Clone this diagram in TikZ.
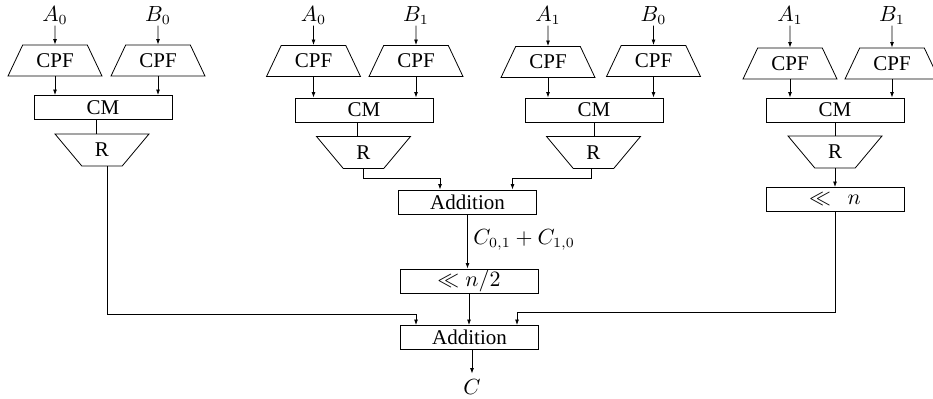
\documentclass[tikz,border=0pt]{standalone}
\usepackage{fontspec}
\setmainfont{Liberation Serif}
\usetikzlibrary{shapes.geometric,arrows.meta}
\tikzset{
  lab/.style={inner sep=0.5pt},
  cpf/.style={draw, trapezium, trapezium stretches=true, trapezium left angle=59,
    trapezium right angle=59, minimum width=47pt, minimum height=15.5pt, inner sep=0pt},
  rbox/.style={draw, trapezium, trapezium stretches=true, trapezium left angle=124,
    trapezium right angle=124, minimum width=47pt, minimum height=16pt, inner sep=0pt},
  blk/.style={draw, rectangle, minimum width=69pt, minimum height=12pt, inner sep=0pt},
  arr/.style={-{Latex[length=2.8pt,width=2pt]}},
}
\begin{document}
\begin{tikzpicture}[x=0.5pt, y=-0.5pt, font=\fontsize{10.5}{12.6}\selectfont]
\useasboundingbox (0,0) rectangle (933,398);
% ---------- group 1 ----------
\node[cpf] (cpf1) at (55,60.5) {CPF};
\node[cpf] (cpf2) at (158,60.5) {CPF};
\node[lab,anchor=base] (a0) at (55,21) {$A_0$};
\node[lab,anchor=base] (b0) at (158,21) {$B_0$};
\node[blk] (cm1) at (103,107.5) {CM};
\node[rbox] (r1) at (102,150) {R};
\draw[arr] (a0) -- (cpf1);
\draw[arr] (b0) -- (cpf2);
\draw[arr] (cpf1.south) -- (cpf1.south |- cm1.north);
\draw[arr] (cpf2.south) -- (cpf2.south |- cm1.north);
\draw ([xshift=-3.5pt]cm1.south) -- ([xshift=-3.5pt]cm1.south |- r1.north);
% ---------- group 2 ----------
\node[cpf] (cpf3) at (313.5,61) {CPF};
\node[cpf] (cpf4) at (416,61) {CPF};
\node[lab,anchor=base] (a0b) at (313.5,21) {$A_0$};
\node[lab,anchor=base] (b1) at (416,21) {$B_1$};
\node[blk] (cm2) at (364,110) {CM};
\node[rbox] (r2) at (363.5,152.5) {R};
\draw[arr] (a0b) -- (cpf3);
\draw[arr] (b1) -- (cpf4);
\draw[arr] (cpf3.south) -- (cpf3.south |- cm2.north);
\draw[arr] (cpf4.south) -- (cpf4.south |- cm2.north);
\draw ([xshift=-3.5pt]cm2.south) -- ([xshift=-3.5pt]cm2.south |- r2.north);
% ---------- group 3 ----------
\node[cpf] (cpf5) at (548,62) {CPF};
\node[cpf] (cpf6) at (653.5,61) {CPF};
\node[lab,anchor=base] (a1) at (548,21) {$A_1$};
\node[lab,anchor=base] (b0b) at (653.5,21) {$B_0$};
\node[blk] (cm3) at (594,110) {CM};
\node[rbox] (r3) at (593.5,152.5) {R};
\draw[arr] (a1) -- (cpf5);
\draw[arr] (b0b) -- (cpf6);
\draw[arr] (cpf5.south) -- (cpf5.south |- cm3.north);
\draw[arr] (cpf6.south) -- (cpf6.south |- cm3.north);
\draw (cm3.south) -- (cm3.south |- r3.north);
% ---------- group 4 ----------
\node[cpf] (cpf7) at (790,63.5) {CPF};
\node[cpf] (cpf8) at (892,63.5) {CPF};
\node[lab,anchor=base] (a1b) at (790,21) {$A_1$};
\node[lab,anchor=base] (b1b) at (892,21) {$B_1$};
\node[blk] (cm4) at (835,110) {CM};
\node[rbox] (r4) at (835,152) {R};
\node[blk] (shl) at (835,199.5) {$\ll\ \ n$};
\draw[arr] (a1b) -- (cpf7);
\draw[arr] (b1b) -- (cpf8);
\draw[arr] (cpf7.south) -- (cpf7.south |- cm4.north);
\draw[arr] (cpf8.south) -- (cpf8.south |- cm4.north);
\draw (cm4.south) -- (cm4.south |- r4.north);
\draw[arr] (r4.south) -- (r4.south |- shl.north);
% ---------- centre ----------
\node[blk] (add1) at (467.5,202) {Addition};
\node[blk] (shn2) at (469,281) {$\ll n/2$};
\node[blk] (add2) at (469.5,337.5) {Addition};
\node[lab,anchor=west] (lc) at (472,240) {$C_{0,1}+C_{1,0}$};
\node[inner sep=2.5pt,anchor=base] (cout) at (472,394) {$C$};
\draw[arr] (r2.south) -- ++(0,9) -| ([xshift=-13.75pt]add1.north);
\draw[arr] ([xshift=-1.25pt]r3.south) -- ++(0,9) -| ([xshift=22.5pt]add1.north);
\draw[arr] (add1.south) -- (add1.south |- shn2.north);
\draw[arr] (shn2.south) -- (shn2.south |- add2.north);
\draw[arr] ([xshift=2.5pt]r1.south) -- ++(0,148) -| ([xshift=-26.75pt]add2.north);
\draw[arr] (shl.south) -- ++(0,100) -| ([xshift=23.75pt]add2.north);
\draw[arr] ([xshift=1.25pt]add2.south) -- (cout.north);
\end{tikzpicture}
\end{document}
